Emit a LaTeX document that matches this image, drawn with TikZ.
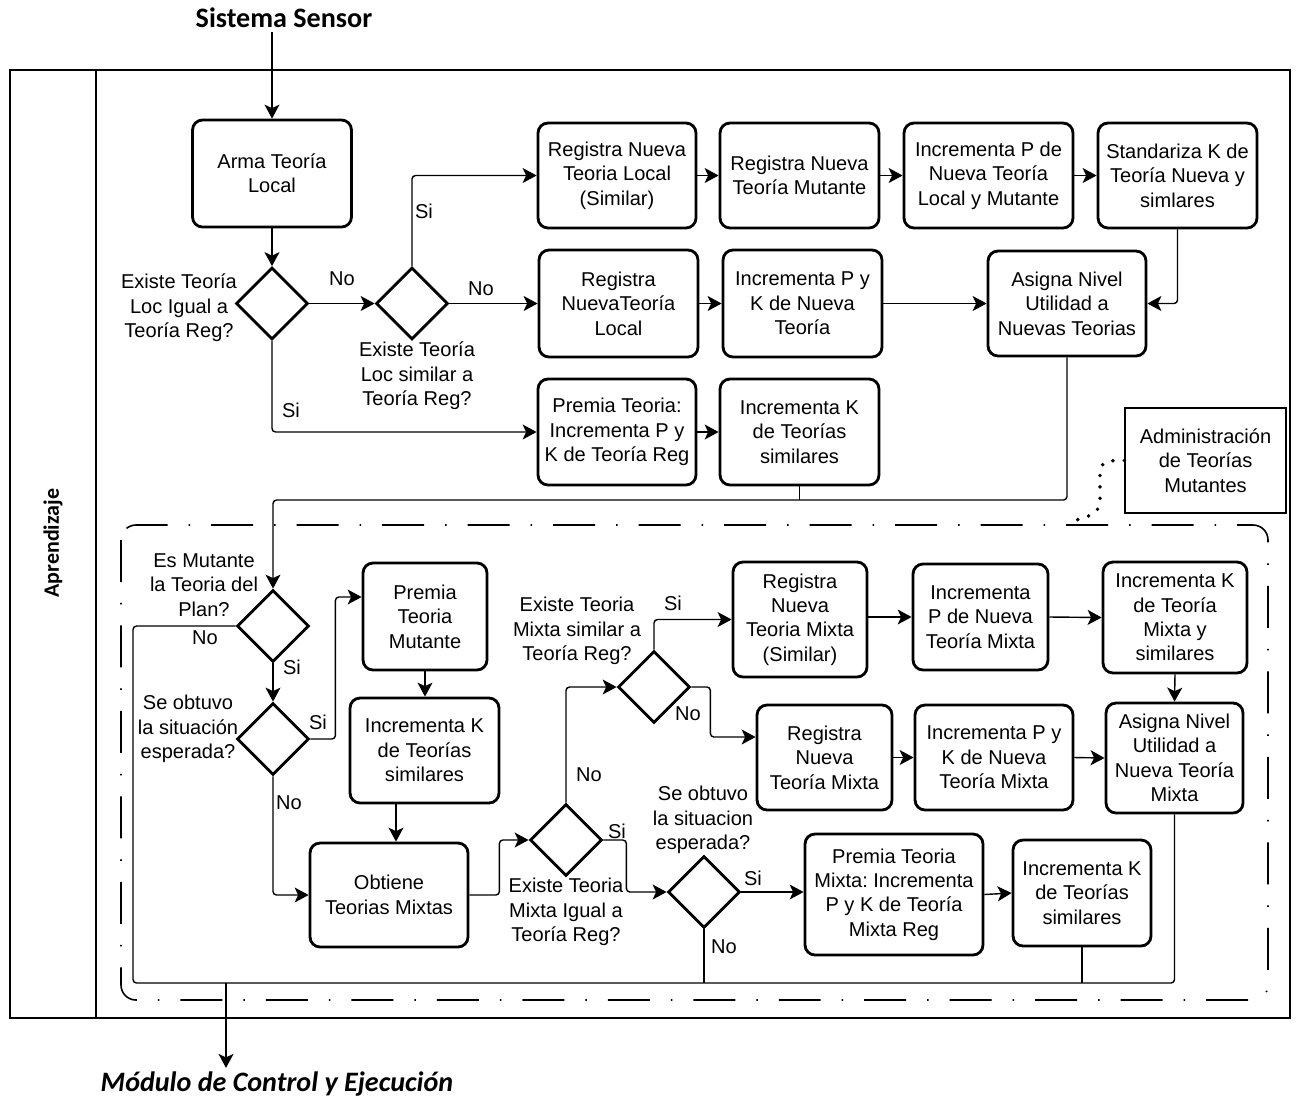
\documentclass[tikz,border=0pt]{standalone}
\usepackage{fontspec}
\setmainfont{Liberation Sans}
\newfontfamily\titlefont{Carlito}
\frenchspacing
\usetikzlibrary{arrows.meta, shapes.geometric}
\tikzset{>={Stealth[length = 0.28cm, width = 0.3cm, inset = 0.07cm]}}
\tikzset{
  paso/.style = {draw, line width = 1.6pt, rounded corners = 0.2cm, align = center, inner sep = 2pt, font = \fontsize{11.4}{13.9}\selectfont},
  decision/.style = {draw, diamond, line width = 1.6pt, minimum width = 1.44cm, minimum height = 1.44cm, inner sep = 0pt},
  texto/.style = {align = center, inner sep = 1pt, font = \fontsize{11.4}{13.9}\selectfont},
  flujo/.style = {line width = 0.8pt, rounded corners = 2pt},
  marco/.style = {line width = 0.8pt},
}

\begin{document}
\begin{tikzpicture}[x = 0.02cm, y = -0.02cm]
\useasboundingbox (0,0) rectangle (1298,1100);
\draw[marco] (10,70) rectangle (1290,1018);
\draw[marco] (96,70) -- (96,1018);
\draw[line width = 0.9pt, rounded corners = 0.3cm, dash pattern = on 0.84cm off 0.42cm on 0.03cm off 0.42cm] (121,525) rectangle (1268,1000);

\node[font = \titlefont\bfseries\fontsize{16}{18}\selectfont, inner sep = 2pt] (ss) at (284,18) {Sistema Sensor};
\node[font = \titlefont\bfseries\itshape\fontsize{16}{18}\selectfont, inner sep = 2pt] (mod) at (277,1084) {Módulo de Control y Ejecución};
\node[rotate = 90, font = \titlefont\bfseries\fontsize{12.5}{14}\selectfont] (carril) at (53,543) {Aprendizaje};

\node[paso, minimum width = 3.18cm, minimum height = 2.14cm] (arma) at (272,173.5) {Arma Teoría\\Local};
\node[paso, minimum width = 3.16cm, minimum height = 2.1cm] (regsim) at (617,175.5) {Registra Nueva\\Teoria Local\\(Similar)};
\node[paso, minimum width = 3.18cm, minimum height = 2.1cm] (regmut) at (799.5,175.5) {Registra Nueva\\Teoría Mutante};
\node[paso, minimum width = 3.38cm, minimum height = 2.1cm] (incp) at (988.5,175.5) {Incrementa P de\\Nueva Teoría\\Local y Mutante};
\node[paso, minimum width = 3.18cm, minimum height = 2.1cm] (stdk) at (1177.5,175.5) {Standariza K de\\Teoría Nueva y\\simlares};

\node[decision] (d1) at (272,303.5) {};
\node[decision] (d2) at (412,303.5) {};
\node[paso, minimum width = 3.18cm, minimum height = 2.14cm] (regnl) at (618.5,303.5) {Registra\\NuevaTeoría\\Local};
\node[paso, minimum width = 3.18cm, minimum height = 2.14cm] (incpk) at (802.5,303.5) {Incrementa P y\\K de Nueva\\Teoría};
\node[paso, minimum width = 3.16cm, minimum height = 2.1cm] (asigna) at (1067,303.5) {Asigna Nivel\\Utilidad a\\Nuevas Teorias};

\node[paso, minimum width = 3.16cm, minimum height = 2.12cm] (premia) at (617,432) {Premia Teoria:\\Incrementa P y\\K de Teoría Reg};
\node[paso, minimum width = 3.18cm, minimum height = 2.12cm] (inck) at (799.5,432) {Incrementa K\\de Teorías\\similares};
\node[texto, draw, line width = 0.8pt, minimum width = 3.22cm, minimum height = 2.1cm] (adm) at (1205.5,460.5) {Administración\\de Teorías\\Mutantes};

\node[texto] (p1) at (179,308) {Existe Teoría\\Loc Igual a\\Teoría Reg?};
\node[texto] (p2) at (417,376) {Existe Teoría\\Loc similar a\\Teoría Reg?};
\node[texto] (no1) at (342,279) {No};
\node[texto] (si1) at (424,211) {Si};
\node[texto] (no2) at (481,289) {No};
\node[texto] (si2) at (291,410) {Si};

\node[decision] (dmut) at (273,626) {};
\node[decision] (dobt) at (273,739) {};
\node[paso, minimum width = 2.48cm, minimum height = 2.14cm] (premut) at (425,616.5) {Premia\\Teoria\\Mutante};
\node[paso, minimum width = 2.98cm, minimum height = 2.1cm] (inck2) at (424.5,750.5) {Incrementa K\\de Teorías\\similares};
\node[paso, minimum width = 3.16cm, minimum height = 2.08cm] (obt) at (389,895) {Obtiene\\Teorias Mixtas};
\node[decision] (dmixeq) at (566,840) {};
\node[decision] (dmixsim) at (654,687) {};
\node[decision] (dobt2) at (704,892) {};
\node[paso, minimum width = 2.68cm, minimum height = 2.3cm] (regmixsim) at (800,619.5) {Registra\\Nueva\\Teoria Mixta\\(Similar)};
\node[paso, minimum width = 2.7cm, minimum height = 2.1cm] (regmix) at (824.5,757.5) {Registra\\Nueva\\Teoría Mixta};
\node[paso, minimum width = 2.7cm, minimum height = 2.12cm] (incpmix) at (980.5,617) {Incrementa\\P de Nueva\\Teoría Mixta};
\node[paso, minimum width = 2.88cm, minimum height = 2.22cm] (inckmix) at (1175,617.5) {Incrementa K\\de Teoría\\Mixta y\\similares};
\node[paso, minimum width = 3.16cm, minimum height = 2.1cm] (incpkmix) at (994,757.5) {Incrementa P y\\K de Nueva\\Teoría Mixta};
\node[paso, minimum width = 2.74cm, minimum height = 2.2cm] (asignamix) at (1174.5,758) {Asigna Nivel\\Utilidad a\\Nueva Teoría\\Mixta};
\node[paso, minimum width = 3.56cm, minimum height = 2.42cm] (premiamix) at (894,894.5) {Premia Teoria\\Mixta: Incrementa\\P y K de Teoría\\Mixta Reg};
\node[paso, minimum width = 2.76cm, minimum height = 2.12cm] (inck3) at (1082,893) {Incrementa K\\de Teorías\\similares};

\node[texto] (p3) at (204,585) {Es Mutante\\la Teoria del\\Plan?};
\node[texto] (p4) at (188,729) {Se obtuvo\\la situación\\esperada?};
\node[texto] (p5) at (566,912) {Existe Teoria\\Mixta Igual a\\Teoría Reg?};
\node[texto] (p6) at (577,631) {Existe Teoria\\Mixta similar a\\Teoría Reg?};
\node[texto] (p7) at (703,820) {Se obtuvo\\la situacion\\esperada?};
\node[texto] (no3) at (205,638) {No};
\node[texto] (si3) at (292,667) {Si};
\node[texto] (si4) at (318,722) {Si};
\node[texto] (no4) at (289,803) {No};
\node[texto] (no5) at (589,775) {No};
\node[texto] (si5) at (617,831) {Si};
\node[texto] (si6) at (673,603) {Si};
\node[texto] (no6) at (688,714) {No};
\node[texto] (si7) at (753,878) {Si};
\node[texto] (no7) at (724,947) {No};

\draw[flujo, ->] (ss.south -| arma.north) -- (arma.north);
\draw[flujo, ->] (arma.south) -- (d1.north);
\draw[flujo, ->] (d1.east) -- (d2.west);
\draw[flujo, ->] (d2.north) |- (regsim.west);
\draw[flujo, ->] (d2.east) -- (regnl.west);
\draw[flujo, ->] (d1.south) |- (premia.west);
\draw[flujo, ->] (regsim.east) -- (regmut.west);
\draw[flujo, ->] (regmut.east) -- (incp.west);
\draw[flujo, ->] (incp.east) -- (stdk.west);
\draw[flujo, ->] (stdk.south) |- (asigna.east);
\draw[flujo, ->] (regnl.east) -- (incpk.west);
\draw[flujo, ->] (incpk.east) -- (asigna.west);
\draw[flujo, ->] (premia.east) -- (inck.west);
\coordinate (union) at (799.5,500);
\draw[flujo] (inck.south) -- (union);
\draw[flujo, ->] (asigna.south) |- (union) -| (dmut.north);
\coordinate (admfin) at (1068,523);
\draw[line width = 2.2pt, dash pattern = on 0pt off 6.5pt, line cap = round, rounded corners = 6pt] (adm.west) -- (1100,461) -- (1100,512) -- (admfin);

\draw[flujo, ->] (dmut.south) -- (dobt.north);
\draw[flujo, ->] (dobt.east) -- ++(25,0) |- ([yshift = 0.39cm]premut.west);
\draw[flujo, ->] (dobt.south) |- (obt.west);
\draw[flujo, ->] (premut.south) -- (premut.south |- inck2.north);
\draw[flujo, ->] ([xshift = 0.14cm]obt.north |- inck2.south) -- ([xshift = 0.14cm]obt.north);
\draw[flujo, ->] (obt.east) -- ++(30,0) |- (dmixeq.west);
\draw[flujo, ->] (dmixeq.north) |- (dmixsim.west);
\draw[flujo, ->] (dmixeq.east) -- ++(23,0) |- (dobt2.west);
\draw[flujo, ->] (dmixsim.north) |- (regmixsim.west);
\draw[flujo, ->] (dmixsim.east) -- ++(19,0) |- ([yshift = 0.41cm]regmix.west);
\draw[flujo, ->] (regmixsim.east |- incpmix.west) -- (incpmix.west);
\draw[flujo, ->] (incpmix.east) -- (inckmix.west);
\draw[flujo, ->] (inckmix.south) -- (asignamix.north);
\draw[flujo, ->] (regmix.east) -- (incpkmix.west);
\draw[flujo, ->] (incpkmix.east) -- (asignamix.west);
\draw[flujo, ->] (dobt2.east) -- (dobt2.east -| premiamix.west);
\draw[flujo, ->] (premiamix.east) -- (inck3.west);

\coordinate (bl) at (133,983);
\coordinate (salida) at (226,983);
\draw[flujo] (dmut.west) -| (bl) -| (asignamix.south);
\draw[flujo] (dobt2.south) -- (dobt2.south |- bl);
\draw[flujo] (inck3.south) -- (inck3.south |- bl);
\draw[flujo, ->] (salida) -- (salida |- mod.north);
\end{tikzpicture}
\end{document}
